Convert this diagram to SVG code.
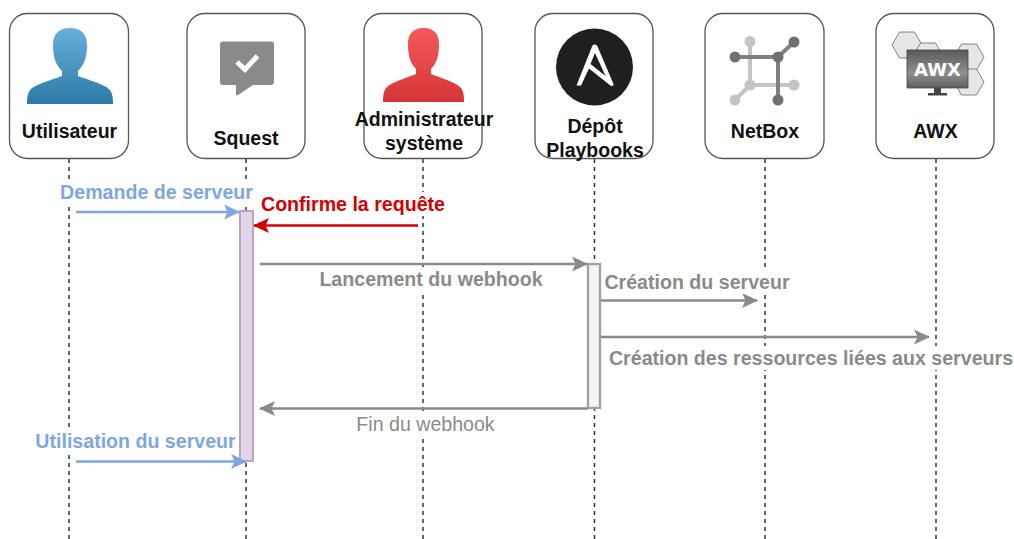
<svg xmlns="http://www.w3.org/2000/svg" width="1014" height="539" viewBox="0 0 1014 539">
<style>
text{font-family:"Liberation Sans",Arial,sans-serif;font-weight:bold;text-anchor:middle}
.box{fill:#fff;stroke:#555;stroke-width:1.3}
.name{font-size:19.500px;fill:#111}
.life{stroke:#333;stroke-width:1.5;stroke-dasharray:4 4;fill:none}
.m{fill:none;stroke-width:2.500}
.blue{stroke:#7ea6e0}.red{stroke:#d40000}.grey{stroke:#8a8a8a}
.lb{font-size:19.600px}
.bg{fill:#fff}
</style>
<defs>
<linearGradient id="gb" x1="0" y1="0" x2="0" y2="1"><stop offset="0" stop-color="#68b0dc"/><stop offset="1" stop-color="#2a7ba5"/></linearGradient>
<linearGradient id="gr" x1="0" y1="0" x2="0" y2="1"><stop offset="0" stop-color="#f4585c"/><stop offset="1" stop-color="#d63536"/></linearGradient>
<linearGradient id="gs" x1="0" y1="0" x2="0" y2="1"><stop offset="0" stop-color="#5a5a5a"/><stop offset="0.6" stop-color="#8f8f8f"/><stop offset="1" stop-color="#5f5f5f"/></linearGradient>
<marker id="ab" markerUnits="userSpaceOnUse" markerWidth="18" markerHeight="18" refX="15" refY="9" orient="auto"><path d="M0 1.500 L16 9 L0 16.500 L3.500 9Z" fill="#7ea6e0"/></marker>
<marker id="ar" markerUnits="userSpaceOnUse" markerWidth="18" markerHeight="18" refX="15" refY="9" orient="auto"><path d="M0 1.500 L16 9 L0 16.500 L3.500 9Z" fill="#d40000"/></marker>
<marker id="ag" markerUnits="userSpaceOnUse" markerWidth="18" markerHeight="18" refX="15" refY="9" orient="auto"><path d="M0 1.500 L16 9 L0 16.500 L3.500 9Z" fill="#8a8a8a"/></marker>
<polygon id="hex" points="-15,0 -7.500,-13 7.500,-13 15,0 7.500,13 -7.500,13" fill="#e6e6e6" stroke="#666" stroke-width="0.800"/>
</defs>

<g id="lifelines">
<path class="life" d="M69 159V539M246 159V539M423 159V539M594.500 159V539M765 159V539M936 159V539"/>
</g>

<g id="utilisateur">
<rect class="box" x="9.500" y="13.500" width="119" height="145" rx="18"/>
<path fill="url(#gb)" d="M70 28C82 28 87 35 87 45C87 56 85 64 78 71V76C85 79 105 84 110 90C112 93 113 96 113 104H27C27 96 28 93 30 90C35 84 55 79 62 76V71C55 64 53 56 53 45C53 35 58 28 70 28Z"/>
<text class="name" x="69.500" y="137.500">Utilisateur</text>
</g>

<g id="squest">
<rect class="box" x="187" y="13.500" width="118" height="145" rx="18"/>
<path fill="#8a8a8a" d="M223 41.500H271Q274 41.500 274 44.500V82Q274 85 271 85H253L238 95Q236 96 236 94V85H223Q220 85 220 82V44.500Q220 41.500 223 41.500Z"/>
<path fill="none" stroke="#fff" stroke-width="5" d="M237 62L245 69.500L257.500 56"/>
<text class="name" x="246" y="144.500">Squest</text>
</g>

<g id="admin">
<rect class="box" x="364" y="13.500" width="118" height="145" rx="18"/>
<path fill="url(#gr)" d="M423.500 28C435 28 439 35 439 44C439 55 437 63 431 69V74C438 77 456 82 461 88C463 91 464 94 464 102H383C383 94 384 91 386 88C391 82 409 77 416 74V69C410 63 408 55 408 44C408 35 412 28 423.500 28Z"/>
<text class="name" x="424" y="126">Administrateur</text>
<text class="name" x="424" y="149.500">système</text>
</g>

<g id="depot">
<rect class="box" x="535" y="13.500" width="118" height="145" rx="18"/>
<circle cx="594.500" cy="67" r="38.500" fill="#1f1f1f"/>
<path fill="#fff" d="M594 44.500Q596.500 44 597.500 46.500L613.500 84Q614 86.500 611 86L589 68.500L581 85.500L576.500 85.500L592 46.500Q592.500 45 594 44.500ZM595 53L590.500 64L605.500 76Z"/>
<text class="name" x="595" y="132.500">Dépôt</text>
<text class="name" x="595" y="156.500">Playbooks</text>
</g>

<g id="netbox">
<rect class="box" x="705" y="13.500" width="119" height="145" rx="18"/>
<g fill="none" stroke-width="4">
<path stroke="#c4c4c4" d="M750 41V85M735 100L750 85L794 85"/>
<path stroke="#808080" d="M735 57H778L794 42M778 57V100"/>
</g>
<g fill="#c4c4c4"><circle cx="750" cy="41.500" r="5.500"/><circle cx="750" cy="85" r="5.500"/><circle cx="794" cy="85" r="5.500"/><circle cx="735" cy="100" r="5.500"/></g>
<g fill="#707070"><circle cx="735" cy="57" r="5.500"/><circle cx="778" cy="57" r="5.500"/><circle cx="794" cy="42" r="5.500"/><circle cx="778" cy="100" r="5.500"/></g>
<text class="name" x="765" y="137.500">NetBox</text>
</g>

<g id="awx">
<rect class="box" x="876" y="13.500" width="118" height="145" rx="18"/>
<use href="#hex" x="907" y="45"/>
<use href="#hex" x="928" y="56"/>
<use href="#hex" x="969" y="57"/>
<use href="#hex" x="969" y="82"/>
<rect x="907" y="50" width="61" height="38" fill="url(#gs)" stroke="#444" stroke-width="0.800"/>
<path fill="#444" d="M934 88H941V93H947V95.500H928V93H934Z"/>
<text x="937.500" y="76" style="font-size:18px;font-family:'DejaVu Sans',sans-serif;font-weight:bold" fill="#fff">AWX</text>
<text class="name" x="935.500" y="137.500">AWX</text>
</g>

<g id="activations">
<rect id="act-squest" x="240" y="211" width="13" height="250" fill="#e1d5e7" stroke="#b9a3c6" stroke-width="2"/>
<rect id="act-depot" x="588" y="264" width="12" height="144" fill="#f5f5f5" stroke="#a0a0a0" stroke-width="2.300"/>
</g>

<g id="connectors">
<path class="m blue" marker-end="url(#ab)" d="M76 212H239"/>
<path class="m red" marker-end="url(#ar)" d="M418 225.500H254"/>
<path class="m grey" marker-end="url(#ag)" d="M260 264H587"/>
<path class="m grey" marker-end="url(#ag)" d="M601 300.500H757"/>
<path class="m grey" marker-end="url(#ag)" d="M601 337H929"/>
<path class="m grey" marker-end="url(#ag)" d="M588 408.500H260"/>
<path class="m blue" marker-end="url(#ab)" d="M76 461.500H246"/>
</g>

<g id="labels">
<rect class="bg" x="60" y="181" width="193" height="24"/>
<text class="lb" x="156.500" y="198.500" fill="#7ea6e0">Demande de serveur</text>
<rect class="bg" x="261" y="192" width="184" height="24"/>
<text class="lb" x="353" y="210.500" fill="#d40000">Confirme la requête</text>
<rect class="bg" x="319" y="268" width="224" height="23"/>
<text class="lb" x="431" y="286" fill="#8a8a8a">Lancement du webhook</text>
<rect class="bg" x="604" y="271" width="186" height="23"/>
<text class="lb" x="697" y="289" fill="#8a8a8a">Création du serveur</text>
<rect class="bg" x="609" y="346" width="405" height="24"/>
<text class="lb" x="811" y="365" fill="#8a8a8a">Création des ressources liées aux serveurs</text>
<rect class="bg" x="356" y="413" width="139" height="22"/>
<text class="lb" x="425.500" y="430.500" fill="#8a8a8a" style="font-weight:normal">Fin du webhook</text>
<rect class="bg" x="35" y="430" width="201" height="23"/>
<text class="lb" x="135.500" y="447.500" fill="#7ea6e0">Utilisation du serveur</text>
</g>
</svg>
